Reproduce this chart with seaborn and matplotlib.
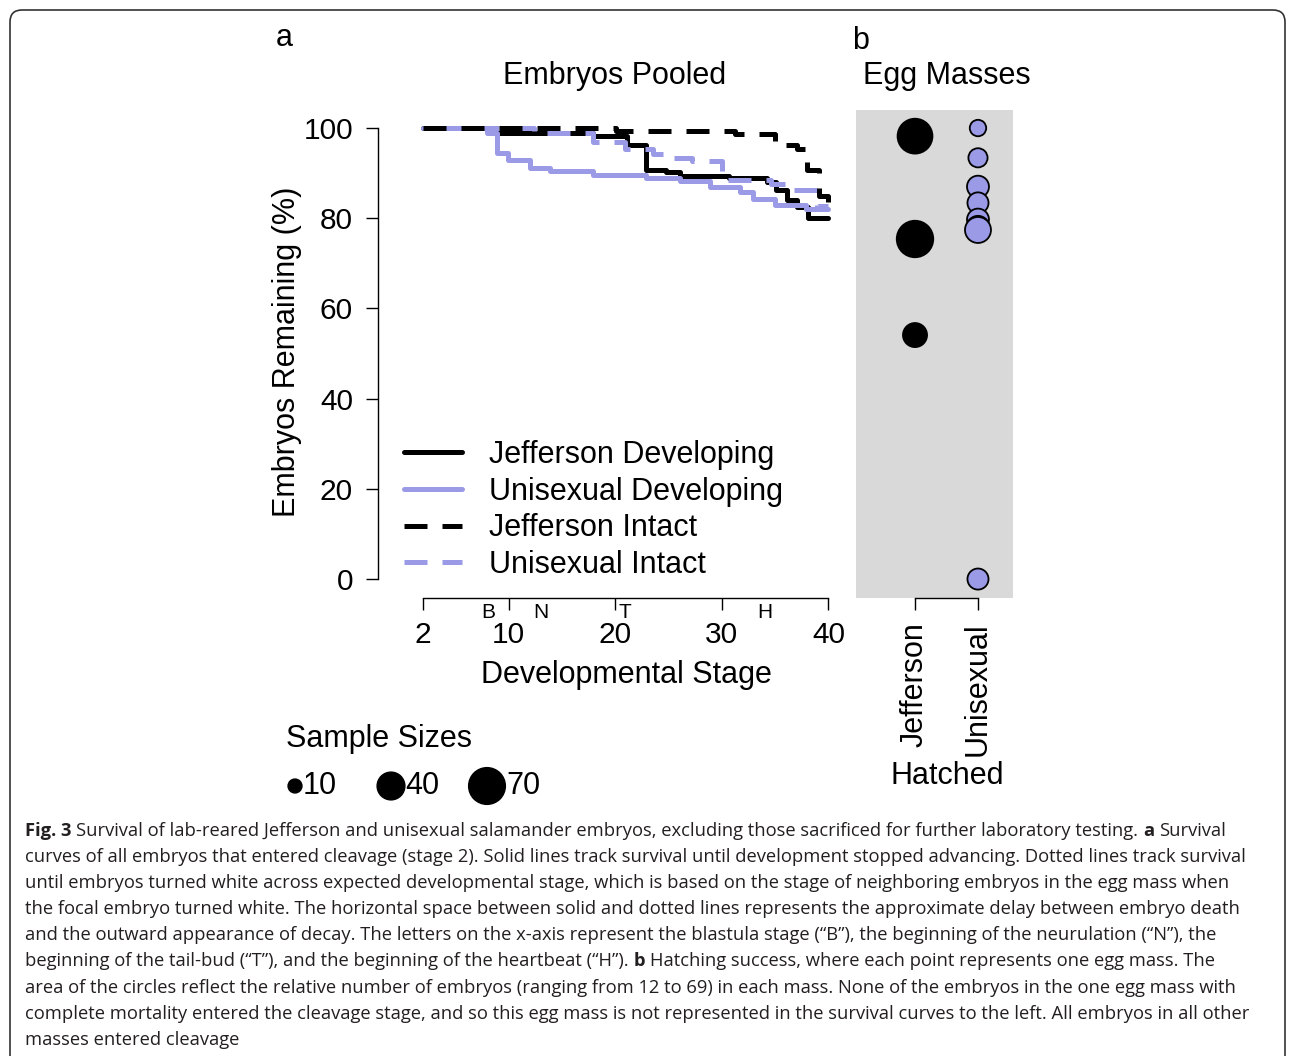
import matplotlib
matplotlib.use("Agg")
import matplotlib.pyplot as plt
from matplotlib.patches import FancyBboxPatch
from matplotlib.transforms import IdentityTransform
import pandas as pd
import seaborn as sns


# panel a - survival curves, developmental stage vs % embryos remaining
jeff_dev_stage = [2, 8.3, 17.9, 21.1, 22.9, 24.8, 26.1, 30.7, 34.2, 35.1, 36.1, 37.1, 38.1, 40]
jeff_dev_pct = [100, 98.9, 98.2, 96.3, 90.8, 90.2, 89.4, 88.9, 88.0, 86.3, 84.1, 82.4, 80.0, 80.0]

uni_dev_stage = [2, 8.0, 8.9, 9.9, 12.0, 13.9, 17.9, 22.9, 26.1, 28.9, 31.7, 32.9, 35.0, 37.9, 40]
uni_dev_pct = [100, 98.9, 94.5, 93.0, 91.1, 90.5, 89.6, 88.9, 88.2, 87.0, 85.9, 84.2, 82.9, 82.0, 82.0]

jeff_int_stage = [2, 20.1, 31.2, 35.0, 37.1, 38.0, 39.1, 40]
jeff_int_pct = [100, 99.4, 98.7, 96.3, 95.4, 90.8, 85.0, 83.0]

uni_int_stage = [2, 12.4, 17.9, 20.9, 23.5, 24.9, 27.2, 30.0, 34.6, 35.9, 38.9, 40]
uni_int_pct = [100, 98.9, 96.9, 95.4, 94.2, 93.3, 92.7, 88.5, 87.6, 86.3, 82.8, 82.8]

curve_names = ["Jefferson Developing", "Unisexual Developing", "Jefferson Intact", "Unisexual Intact"]
stage_ticks = [2, 10, 20, 30, 40]
pct_ticks = [0, 20, 40, 60, 80, 100]
stage_letters = ["B", "N", "T", "H"]
stage_letter_pos = [8.1, 13, 20.9, 34]

# panel b - hatching success per egg mass
mass_levels = ["Jefferson", "Unisexual"]
mass_group = ["Jefferson"] * 3 + ["Unisexual"] * 8
mass_hatched = [98.2, 75.4, 54.1, 100, 93.4, 87.0, 83.4, 79.7, 78.0, 77.4, 0]
mass_n = [63, 69, 30, 14, 19, 25, 23, 25, 27, 35, 23]

key_n = [10, 40, 70]

W, H = 1295, 1056
LAV = "#9a9ae6"
CAP_FONT = ["Open Sans", "DejaVu Sans"]
FS = 22
DASH = (4.6, 3.0)

sns.set_theme(style="white")
plt.rcParams["font.family"] = ["Liberation Sans", "DejaVu Sans"]
plt.rcParams["text.color"] = "black"
plt.rcParams["axes.labelcolor"] = "black"
plt.rcParams["xtick.color"] = "black"
plt.rcParams["ytick.color"] = "black"


def fpos(x0, y0, x1, y1):
    return [x0 / W, 1 - y1 / H, (x1 - x0) / W, (y1 - y0) / H]


def fxy(x, y):
    return x / W, 1 - y / H


fig = plt.figure(figsize=(W / 100, H / 100), dpi=100)

# ---------------- panel a
ax = fig.add_axes(fpos(378, 110, 846, 598))

curve_data = [
    (jeff_dev_stage, jeff_dev_pct, "black", "-", 2),
    (uni_dev_stage, uni_dev_pct, LAV, "-", 3),
    (jeff_int_stage, jeff_int_pct, "black", (0, DASH), 5),
    (uni_int_stage, uni_int_pct, LAV, (4.6, DASH), 4),
]
handles = []
for (s, p, col, ls, z), name in zip(curve_data, curve_names):
    sns.lineplot(x=s, y=p, color=col, estimator=None, errorbar=None,
                 drawstyle="steps-post", linewidth=3.6, legend=False, ax=ax)
    line = ax.lines[-1]
    line.set_linestyle(ls)
    line.set_zorder(z)
    handles.append(line)

ax.set_xlim(-2.25, 41.65)
ax.set_ylim(-4.2, 104)
for side in ["top", "right"]:
    ax.spines[side].set_visible(False)
for side in ["left", "bottom"]:
    ax.spines[side].set_color("black")
    ax.spines[side].set_linewidth(1.0)
ax.spines["left"].set_bounds(0, 100)
ax.spines["bottom"].set_bounds(2, 40)
ax.set_xticks(stage_ticks)
ax.set_yticks(pct_ticks)
ax.tick_params(bottom=True, left=True, direction="out", length=8.6, width=1.0,
               labelsize=21.5, colors="black")
ax.tick_params(axis="y", pad=9.4)
ax.tick_params(axis="x", pad=8)

for letter, pos in zip(stage_letters, stage_letter_pos):
    ax.annotate(letter, xy=(pos, 0), xycoords=("data", "axes fraction"),
                xytext=(0, -10.5), textcoords="offset points",
                ha="center", va="center", fontsize=15)

ax.set_xlabel("Developmental Stage", fontsize=FS, va="center")
ax.xaxis.set_label_coords(0.530, -0.157)
ax.set_ylabel("Embryos Remaining (%)", fontsize=FS, va="center")
ax.yaxis.set_label_coords(-0.1944, 0.504)

leg = ax.legend(handles, curve_names, loc="upper left", bbox_to_anchor=fxy(404, 440),
                bbox_transform=fig.transFigure, frameon=False, fontsize=FS,
                handlelength=1.9, handletextpad=0.88, labelspacing=0.22,
                borderpad=0, borderaxespad=0)
leg.get_lines()[3].set_linestyle((0, DASH))

# ---------------- panel b
eggs = pd.DataFrame({"group": mass_group, "hatched": mass_hatched, "n": mass_n})
axb = fig.add_axes(fpos(856, 110, 1013, 598))
sns.scatterplot(data=eggs, x="group", y="hatched", hue="group", size="n",
                palette={"Jefferson": "black", "Unisexual": LAV},
                sizes=(0, 1000), size_norm=(0, 100),
                edgecolor="black", linewidth=1.3, legend=False, ax=axb)
axb.set_facecolor("#d9d9d9")
axb.set_xlim(-0.937, 1.556)
axb.set_ylim(-4.2, 104)
for side in ["top", "right", "left"]:
    axb.spines[side].set_visible(False)
axb.spines["bottom"].set_color("black")
axb.spines["bottom"].set_linewidth(1.0)
axb.spines["bottom"].set_bounds(0, 1)
axb.set_yticks([])
axb.set_xticks(range(len(mass_levels)))
axb.set_xticklabels(mass_levels, rotation=90, ha="center", va="top")
axb.tick_params(axis="x", bottom=True, direction="out", length=8.6, width=1.0,
                labelsize=FS, colors="black", pad=9)
axb.set_xlabel("")
axb.set_ylabel("")

# ---------------- sample size key
key_df = pd.DataFrame({"label": [str(n) for n in key_n], "n": key_n, "y": [0] * len(key_n)})
axk = fig.add_axes(fpos(270, 766, 560, 806))
sns.scatterplot(data=key_df, x="label", y="y", size="n", sizes=(0, 1000), size_norm=(0, 100),
                color="black", edgecolor="black", linewidth=1.0, legend=False, ax=axk)
axk.set_xlim((270 - 295) / 96, (560 - 295) / 96)
axk.set_ylim(-1, 1)
axk.axis("off")
for i, n in enumerate(key_n):
    r = (10 * n) ** 0.5 / 2
    axk.annotate(str(n), xy=(i, 0), xytext=(r + 0.6, 0), textcoords="offset points",
                 ha="left", va="center", fontsize=FS)

# ---------------- titles and labels
fig.text(*fxy(615, 84), "Embryos Pooled", fontsize=FS, ha="center", va="baseline")
fig.text(*fxy(947, 84), "Egg Masses", fontsize=FS, ha="center", va="baseline")
fig.text(*fxy(284, 46), "a", fontsize=FS, ha="center", va="baseline")
fig.text(*fxy(861, 49), "b", fontsize=FS, ha="center", va="baseline")
fig.text(*fxy(947, 784), "Hatched", fontsize=FS, ha="center", va="baseline")
fig.text(*fxy(286, 747), "Sample Sizes", fontsize=FS, ha="left", va="baseline")

# ---------------- caption
caption = [
    [("Fig. 3", True), ("Survival of lab-reared Jefferson and unisexual salamander embryos, excluding those sacrificed for further laboratory testing.", False), ("a", True), ("Survival", False)],
    [("curves of all embryos that entered cleavage (stage 2). Solid lines track survival until development stopped advancing. Dotted lines track survival", False)],
    [("until embryos turned white across expected developmental stage, which is based on the stage of neighboring embryos in the egg mass when", False)],
    [("the focal embryo turned white. The horizontal space between solid and dotted lines represents the approximate delay between embryo death", False)],
    [("and the outward appearance of decay. The letters on the x-axis represent the blastula stage (\u201cB\u201d), the beginning of the neurulation (\u201cN\u201d), the", False)],
    [("beginning of the tail-bud (\u201cT\u201d), and the beginning of the heartbeat (\u201cH\u201d).", False), ("b", True), ("Hatching success, where each point represents one egg mass. The", False)],
    [("area of the circles reflect the relative number of embryos (ranging from 12 to 69) in each mass. None of the embryos in the one egg mass with", False)],
    [("complete mortality entered the cleavage stage, and so this egg mass is not represented in the survival curves to the left. All embryos in all other", False)],
    [("masses entered cleavage", False)],
]

renderer = fig.canvas.get_renderer()


def text_w(s, fs, bold):
    t = fig.text(0, 0, s, fontsize=fs, family=CAP_FONT, weight="bold" if bold else "normal")
    w = t.get_window_extent(renderer).width
    t.remove()
    return w


def line_w(segs, fs):
    sp = text_w("a a", fs, False) - text_w("aa", fs, False)
    return sum(text_w(s, fs, b) for s, b in segs) + sp * (len(segs) - 1)


cap_fs = 10 * 1200 / line_w(caption[0], 10)
space_w = text_w("a a", cap_fs, False) - text_w("aa", cap_fs, False)
for k, segs in enumerate(caption):
    x = 25
    y = 836 + k * 26.1
    for s, b in segs:
        fig.text(*fxy(x, y), s, fontsize=cap_fs, family=CAP_FONT,
                 weight="bold" if b else "normal", color="#231f20",
                 ha="left", va="baseline")
        x += text_w(s, cap_fs, b) + space_w

frame = FancyBboxPatch((10, -20), 1275, 1056 - 10 + 20, boxstyle="round,pad=0,rounding_size=12",
                       transform=IdentityTransform(), fill=False, lw=1.2, ec="#333333")
fig.patches.append(frame)

fig.savefig("out.png", dpi=100, facecolor="white")
